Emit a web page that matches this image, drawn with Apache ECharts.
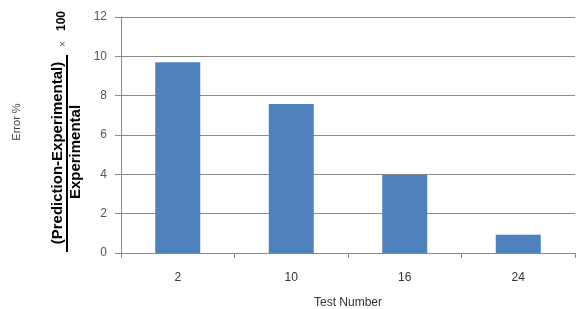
<!DOCTYPE html>
<html>
<head>
<meta charset="utf-8">
<script src="https://cdn.jsdelivr.net/npm/echarts@6/dist/echarts.min.js"></script>
<style>html,body{margin:0;padding:0;background:#fff;}#c{width:576px;height:309px;}</style>
</head>
<body>
<div id="c"></div>
<script>
const categories = ['2', '10', '16', '24'];
const errorValues = [9.7, 7.57, 3.97, 0.93];
const yTicks = { min: 0, max: 12, interval: 2 };

const chart = echarts.init(document.getElementById('c'), null, { renderer: 'canvas' });
const font = 'Liberation Sans, Arial, sans-serif';
const grey = '#8a8a8a';
chart.setOption({
  animation: false,
  backgroundColor: '#fff',
  grid: { left: 121, right: 1, top: 17, bottom: 56, containLabel: false, outerBoundsMode: 'none' },
  xAxis: {
    type: 'category',
    data: categories,
    boundaryGap: true,
    name: 'Test Number',
    nameLocation: 'middle',
    nameGap: 44,
    nameTextStyle: { fontFamily: font, fontSize: 12, color: '#333' },
    axisLine: { show: true, lineStyle: { color: grey, width: 1 } },
    axisTick: { show: true, length: 5, lineStyle: { color: grey } },
    axisLabel: { margin: 19, fontFamily: font, fontSize: 12, color: '#333' }
  },
  yAxis: {
    type: 'value',
    min: yTicks.min, max: yTicks.max, interval: yTicks.interval,
    axisLine: { show: true, lineStyle: { color: grey, width: 1 } },
    axisTick: { show: true, length: 6, lineStyle: { color: grey } },
    splitLine: { show: true, lineStyle: { color: grey, width: 1 } },
    axisLabel: { margin: 14, fontFamily: font, fontSize: 12, color: '#555' }
  },
  series: [{
    type: 'bar',
    data: errorValues,
    barWidth: 45,
    itemStyle: { color: '#4F81BD' }
  }],
  graphic: [
    { type: 'text', x: 17, y: 122, rotation: Math.PI / 2,
      style: { text: 'Error %', fontFamily: font, fontSize: 11, fill: '#444', textAlign: 'center', textVerticalAlign: 'middle' } },
    { type: 'text', x: 58, y: 153, rotation: Math.PI / 2,
      style: { text: '(Prediction-Experimental)', fontFamily: font, fontSize: 15, fontWeight: 'bold', fill: '#000', textAlign: 'center', textVerticalAlign: 'middle' } },
    { type: 'line', shape: { x1: 67, y1: 252, x2: 67, y2: 55 }, style: { stroke: '#000', lineWidth: 2 } },
    { type: 'text', x: 76, y: 152, rotation: Math.PI / 2,
      style: { text: 'Experimental', fontFamily: font, fontSize: 15, fontWeight: 'bold', fill: '#000', textAlign: 'center', textVerticalAlign: 'middle' } },
    { type: 'text', x: 63, y: 44, rotation: Math.PI / 2,
      style: { text: '×', fontFamily: font, fontSize: 10, fill: '#555', textAlign: 'center', textVerticalAlign: 'middle' } },
    { type: 'text', x: 62, y: 21, rotation: Math.PI / 2,
      style: { text: '100', fontFamily: font, fontSize: 12, fontWeight: 'bold', fill: '#000', textAlign: 'center', textVerticalAlign: 'middle' } }
  ]
});
</script>
</body>
</html>
